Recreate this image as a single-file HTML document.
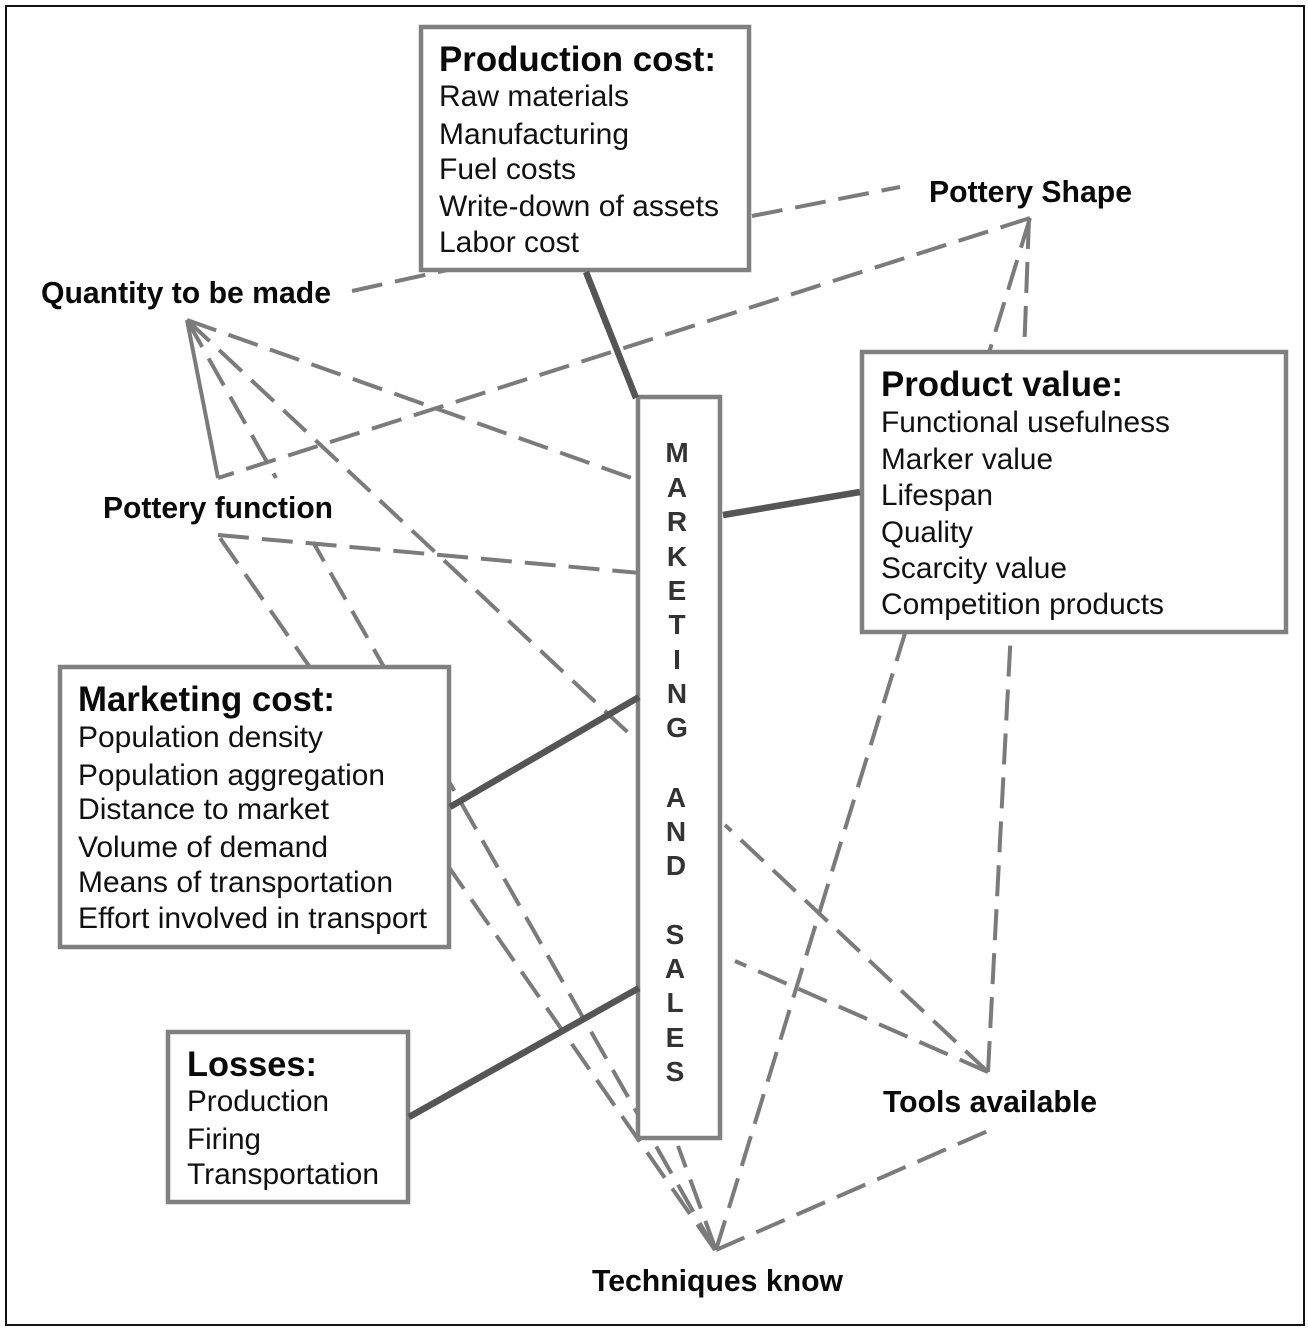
<!DOCTYPE html>
<html>
<head>
<meta charset="utf-8">
<style>
html,body{margin:0;padding:0;background:#fff;width:1308px;height:1330px;overflow:hidden}
svg{display:block}
text{font-family:"Liberation Sans",Arial,sans-serif;fill:#111}
.t{font-weight:bold;font-size:35px;fill:#0a0a0a}
.b{font-size:30px}
.l{font-weight:bold;font-size:30.5px;fill:#0a0a0a}
.c{font-weight:bold;font-size:28px;fill:#333;text-anchor:middle}
.d{stroke:#7b7b7b;stroke-width:4;fill:none;stroke-dasharray:31 13}
.k{stroke:#555;stroke-width:6.5;fill:none}
.r{fill:#fff;stroke:#808080;stroke-width:4.5}
</style>
</head>
<body>
<svg width="1308" height="1330" viewBox="0 0 1308 1330" xmlns="http://www.w3.org/2000/svg">
<rect x="0" y="0" width="1308" height="1330" fill="#fff"/>
<rect x="6" y="6" width="1298" height="1319" fill="none" stroke="#111" stroke-width="2"/>

<!-- dashed connectors: drawn outward from each convergence point -->
<line class="d" x1="352" y1="291" x2="452" y2="269"/>
<line class="d" x1="752" y1="216" x2="900" y2="187"/>
<line class="d" x1="1030" y1="218" x2="218" y2="478"/>
<line x1="218" y1="478" x2="187" y2="320" stroke="#7b7b7b" stroke-width="4"/>
<line class="d" x1="1030" y1="218" x2="988" y2="356"/>
<line class="d" x1="1029" y1="218" x2="1024" y2="356"/>
<line class="d" x1="187" y1="320" x2="640" y2="481"/>
<line class="d" x1="187" y1="320" x2="276" y2="478"/>
<line class="d" x1="715" y1="1250" x2="313" y2="542"/>
<line class="d" x1="187" y1="320" x2="636" y2="740"/>
<line class="d" x1="988" y1="1072" x2="725" y2="825"/>
<line class="d" x1="218" y1="535" x2="640" y2="573"/>
<line class="d" x1="715" y1="1250" x2="218" y2="535"/>
<line class="d" x1="716" y1="1250" x2="678" y2="1146"/>
<line class="d" x1="988" y1="1072" x2="735" y2="961"/>
<line class="d" x1="988" y1="1072" x2="1011" y2="630"/>
<line class="d" x1="716" y1="1250" x2="906" y2="630"/>
<line class="d" x1="716" y1="1250" x2="990" y2="1130"/>

<!-- boxes -->
<rect class="r" x="421" y="27" width="328" height="243"/>
<rect class="r" x="862" y="352" width="424" height="280"/>
<rect class="r" x="60" y="667" width="389" height="280"/>
<rect class="r" x="168" y="1032" width="240" height="170"/>
<rect class="r" x="638" y="397" width="82" height="741"/>

<!-- thick connectors -->
<line class="k" x1="586" y1="272" x2="636" y2="398"/>
<line class="k" x1="723" y1="515" x2="860" y2="492"/>
<line class="k" x1="450" y1="807" x2="639" y2="697"/>
<line class="k" x1="409" y1="1117" x2="639" y2="988"/>

<!-- production -->
<text class="t" x="439" y="71" textLength="277" lengthAdjust="spacingAndGlyphs">Production cost:</text>
<text class="b" x="439" y="106" textLength="190" lengthAdjust="spacingAndGlyphs">Raw materials</text>
<text class="b" x="439" y="144" textLength="190" lengthAdjust="spacingAndGlyphs">Manufacturing</text>
<text class="b" x="439" y="179" textLength="137" lengthAdjust="spacingAndGlyphs">Fuel costs</text>
<text class="b" x="439" y="216" textLength="280" lengthAdjust="spacingAndGlyphs">Write-down of assets</text>
<text class="b" x="439" y="252" textLength="140" lengthAdjust="spacingAndGlyphs">Labor cost</text>

<!-- product -->
<text class="t" x="881" y="396" textLength="242" lengthAdjust="spacingAndGlyphs">Product value:</text>
<text class="b" x="881" y="432" textLength="289" lengthAdjust="spacingAndGlyphs">Functional usefulness</text>
<text class="b" x="881" y="469" textLength="172" lengthAdjust="spacingAndGlyphs">Marker value</text>
<text class="b" x="881" y="505" textLength="112" lengthAdjust="spacingAndGlyphs">Lifespan</text>
<text class="b" x="881" y="542" textLength="92" lengthAdjust="spacingAndGlyphs">Quality</text>
<text class="b" x="881" y="578" textLength="186" lengthAdjust="spacingAndGlyphs">Scarcity value</text>
<text class="b" x="881" y="614" textLength="283" lengthAdjust="spacingAndGlyphs">Competition products</text>

<!-- marketing cost -->
<text class="t" x="78" y="711" textLength="257" lengthAdjust="spacingAndGlyphs">Marketing cost:</text>
<text class="b" x="78" y="747" textLength="245" lengthAdjust="spacingAndGlyphs">Population density</text>
<text class="b" x="78" y="785" textLength="307" lengthAdjust="spacingAndGlyphs">Population aggregation</text>
<text class="b" x="78" y="819" textLength="251" lengthAdjust="spacingAndGlyphs">Distance to market</text>
<text class="b" x="78" y="857" textLength="250" lengthAdjust="spacingAndGlyphs">Volume of demand</text>
<text class="b" x="78" y="892" textLength="315" lengthAdjust="spacingAndGlyphs">Means of transportation</text>
<text class="b" x="78" y="928" textLength="349" lengthAdjust="spacingAndGlyphs">Effort involved in transport</text>

<!-- losses -->
<text class="t" x="187" y="1076" textLength="130" lengthAdjust="spacingAndGlyphs">Losses:</text>
<text class="b" x="187" y="1111" textLength="142" lengthAdjust="spacingAndGlyphs">Production</text>
<text class="b" x="187" y="1149" textLength="74" lengthAdjust="spacingAndGlyphs">Firing</text>
<text class="b" x="187" y="1184" textLength="192" lengthAdjust="spacingAndGlyphs">Transportation</text>

<!-- labels -->
<text class="l" x="929" y="202" textLength="203" lengthAdjust="spacingAndGlyphs">Pottery Shape</text>
<text class="l" x="41" y="303" textLength="290" lengthAdjust="spacingAndGlyphs">Quantity to be made</text>
<text class="l" x="103" y="518" textLength="230" lengthAdjust="spacingAndGlyphs">Pottery function</text>
<text class="l" x="883" y="1112" textLength="214" lengthAdjust="spacingAndGlyphs">Tools available</text>
<text class="l" x="592" y="1291" textLength="251" lengthAdjust="spacingAndGlyphs">Techniques know</text>

<!-- vertical letters -->
<text class="c" x="677" y="462">M</text>
<text class="c" x="677" y="497">A</text>
<text class="c" x="677" y="531">R</text>
<text class="c" x="677" y="566">K</text>
<text class="c" x="677" y="600">E</text>
<text class="c" x="677" y="634">T</text>
<text class="c" x="677" y="669">I</text>
<text class="c" x="677" y="703">N</text>
<text class="c" x="677" y="737">G</text>
<text class="c" x="676" y="807">A</text>
<text class="c" x="676" y="841">N</text>
<text class="c" x="676" y="875">D</text>
<text class="c" x="675" y="944">S</text>
<text class="c" x="675" y="978">A</text>
<text class="c" x="675" y="1012">L</text>
<text class="c" x="675" y="1047">E</text>
<text class="c" x="675" y="1081">S</text>
</svg>
</body>
</html>
